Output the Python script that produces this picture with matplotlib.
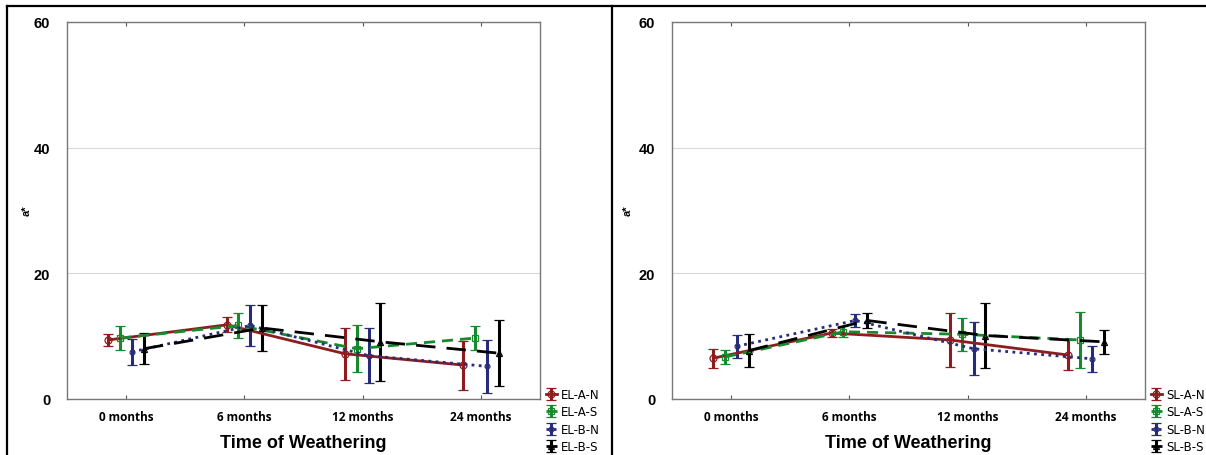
import matplotlib
matplotlib.use("Agg")
import matplotlib.pyplot as plt
from matplotlib.lines import Line2D
import numpy as np

categories = ["0 months", "6 months", "12 months", "24 months"]

# Left panel (EL)
left_names = ["EL-A-N", "EL-A-S", "EL-B-N", "EL-B-S"]
el_a_n = [9.4, 11.8, 7.2, 5.4]
el_a_n_err = [1.0, 1.2, 4.1, 3.9]
el_a_s = [9.7, 11.7, 8.0, 9.7]
el_a_s_err = [1.85, 2.0, 3.7, 1.85]
el_b_n = [7.5, 11.7, 6.9, 5.2]
el_b_n_err = [2.1, 3.2, 4.4, 4.2]
el_b_s = [8.0, 11.3, 9.1, 7.3]
el_b_s_err = [2.45, 3.6, 6.2, 5.2]

# Right panel (SL)
right_names = ["SL-A-N", "SL-A-S", "SL-B-N", "SL-B-S"]
sl_a_n = [6.5, 10.5, 9.4, 7.0]
sl_a_n_err = [1.5, 0.7, 4.3, 2.45]
sl_a_s = [6.7, 10.7, 10.3, 9.4]
sl_a_s_err = [1.1, 0.9, 2.6, 4.45]
sl_b_n = [8.4, 12.5, 8.0, 6.4]
sl_b_n_err = [1.8, 1.1, 4.25, 2.05]
sl_b_s = [7.7, 12.5, 10.1, 9.1]
sl_b_s_err = [2.6, 1.2, 5.15, 1.9]

colors = ["#8e1c1f", "#168a2c", "#262c7a", "#000000"]
markers = ["o", "s", "o", "^"]
msizes = [5, 5, 3.5, 4.5]
linestyles = ["-", (0, (4, 2.5)), (0, (1, 1.6)), (0, (7, 4))]
offsets = [-0.15, -0.05, 0.05, 0.15]

W, H = 1206, 456
fig = plt.figure(figsize=(W / 100, H / 100), dpi=100)

def draw_panel(rect, names, vals, errs, leg_xy, ylab_xy):
    ax = fig.add_axes(rect)
    x = np.arange(len(categories))
    conts = []
    for i in range(4):
        c = ax.errorbar(x + offsets[i], vals[i], yerr=errs[i], color=colors[i],
                        ecolor=colors[i], elinewidth=2.2, capsize=3.5, capthick=2.0,
                        linestyle=linestyles[i], linewidth=2.0, marker=markers[i],
                        markersize=msizes[i], markerfacecolor="none",
                        markeredgecolor=colors[i], markeredgewidth=0.9, zorder=3)
        conts.append(c)
    ax.set_xlim(-0.5, 3.5)
    ax.set_ylim(0, 60)
    ax.set_yticks([0, 20, 40, 60])
    ax.set_yticklabels(["0", "20", "40", "60"], fontfamily="Liberation Sans",
                       fontweight="bold", fontsize=10.5)
    ax.set_xticks(x)
    ax.set_xticklabels(categories, fontfamily="Open Sans", fontweight="bold",
                       fontsize=8.5)
    ax.tick_params(axis="x", direction="in", length=3, width=0.8,
                   color="#555555", top=True, pad=8)
    ax.tick_params(axis="y", length=0, pad=12)
    ax.grid(axis="y", color="#d8d8d8", linewidth=0.8)
    ax.set_axisbelow(True)
    for s in ax.spines.values():
        s.set_color("#777777")
        s.set_linewidth(1.0)
    ax.set_xlabel("Time of Weathering", fontfamily="Liberation Sans",
                  fontweight="bold", fontsize=13, labelpad=8)
    fig.text(ylab_xy[0] / W, 1 - ylab_xy[1] / H, "a*", rotation=90,
             fontfamily="Liberation Sans", fontweight="bold", fontsize=8,
             ha="center", va="center")
    fig.legend(conts, names, loc="upper left",
               bbox_to_anchor=(leg_xy[0] / W, 1 - leg_xy[1] / H),
               frameon=False, prop={"family": "Liberation Sans Narrow",
                                    "size": 8.5},
               handlelength=0.9, handletextpad=0.35, labelspacing=0.38,
               borderaxespad=0, borderpad=0)
    return ax

draw_panel([67 / W, 1 - 400 / H, 473 / W, 377 / H], left_names,
           [el_a_n, el_a_s, el_b_n, el_b_s],
           [el_a_n_err, el_a_s_err, el_b_n_err, el_b_s_err], (546, 389), (27, 211))
draw_panel([672 / W, 1 - 400 / H, 473 / W, 377 / H], right_names,
           [sl_a_n, sl_a_s, sl_b_n, sl_b_s],
           [sl_a_n_err, sl_a_s_err, sl_b_n_err, sl_b_s_err], (1151, 389), (628, 211))

# frame lines
for (xs, ys) in [((7, W), (7, 7)), ((7, 7), (7, H)), ((612, 612), (7, H))]:
    fig.add_artist(Line2D([xs[0] / W, xs[1] / W], [1 - ys[0] / H, 1 - ys[1] / H],
                          transform=fig.transFigure, color="black", linewidth=1.6))

fig.savefig("out.png", dpi=100)
